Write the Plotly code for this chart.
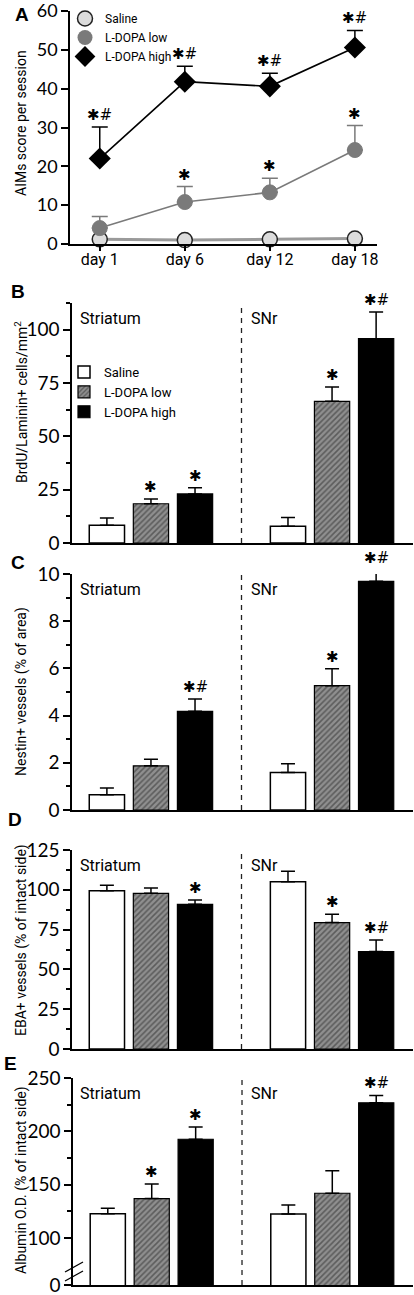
import plotly.graph_objects as go

FIG_W, FIG_H = 414, 1295
NARROW = "Roboto, Liberation Sans Narrow, sans-serif"
NUM = "Lato, Open Sans, sans-serif"
LETTER = "Liberation Sans, Arial, sans-serif"
STAR = "DejaVu Sans, sans-serif"

# ---------------- Panel A data ----------------
days = ["day 1", "day 6", "day 12", "day 18"]
a_saline = [1.2, 1.0, 1.2, 1.4]
a_low = [4.1, 10.8, 13.3, 24.2]
a_low_err = [3.0, 4.0, 3.6, 6.3]
a_high = [22.0, 41.8, 40.6, 50.6]
a_high_err = [8.1, 4.0, 3.4, 4.4]
a_low_sig = ["", "*", "*", "*"]
a_high_sig = ["*#", "*#", "*#", "*#"]
a_yticks = [0, 10, 20, 30, 40, 50, 60]

# ---------------- Bar panels data ----------------
regions = ["Striatum", "SNr"]
treatments = ["Saline", "L-DOPA low", "L-DOPA high"]

# B: BrdU/Laminin+ cells/mm2
b_saline = [8.3, 7.8]
b_saline_err = [3.4, 4.2]
b_low = [18.4, 66.4]
b_low_err = [2.2, 6.7]
b_high = [23.0, 95.8]
b_high_err = [2.9, 12.5]
b_sig_saline = ["", ""]
b_sig_low = ["*", "*"]
b_sig_high = ["*", "*#"]
b_yticks = [0, 25, 50, 75, 100]

# C: Nestin+ vessels (% of area)
c_saline = [0.65, 1.59]
c_saline_err = [0.28, 0.37]
c_low = [1.87, 5.27]
c_low_err = [0.28, 0.71]
c_high = [4.18, 9.69]
c_high_err = [0.52, 0.47]
c_sig_saline = ["", ""]
c_sig_low = ["", "*"]
c_sig_high = ["*#", "*#"]
c_yticks = [0, 2, 4, 6, 8, 10]

# D: EBA+ vessels (% of intact side)
d_saline = [99.4, 105.1]
d_saline_err = [3.4, 6.5]
d_low = [97.8, 79.4]
d_low_err = [3.3, 5.2]
d_high = [90.9, 61.2]
d_high_err = [2.7, 7.3]
d_sig_saline = ["", ""]
d_sig_low = ["", "*"]
d_sig_high = ["*", "*#"]
d_yticks = [0, 25, 50, 75, 100, 125]

# E: Albumin O.D. (% of intact side)  (broken axis: 0 drawn at the floor)
e_saline = [122.8, 122.5]
e_saline_err = [5.2, 8.4]
e_low = [137.0, 142.0]
e_low_err = [13.6, 21.0]
e_high = [192.6, 226.8]
e_high_err = [11.4, 6.9]
e_sig_saline = ["", ""]
e_sig_low = ["*", ""]
e_sig_high = ["*", "*#"]
e_floor = 56
e_yticks = [e_floor, 100, 150, 200, 250]
e_yticktext = ["0", "100", "150", "200", "250"]
e_minor = [125, 175, 225]

BARGAP = 0.27
BARGROUPGAP = 0.2


def sig_html(s):
    out = ""
    for ch in s:
        if ch == "*":
            out += "✱"
        elif ch == "#":
            out += "<i>#</i>"
    return out


def dom_y(top, bottom):
    return [1 - bottom / FIG_H, 1 - top / FIG_H]


def dom_x(left, right):
    return [left / FIG_W, right / FIG_W]


fig = go.Figure()
annotations = []
shapes = []

# ---------------- Panel A traces ----------------
fig.add_trace(go.Scatter(
    x=days, y=a_saline, mode="lines+markers", name="Saline",
    line=dict(color="#9a9a9a", width=3),
    marker=dict(size=15, color="#dcdcdc", line=dict(color="#222", width=1.5)),
    cliponaxis=False, showlegend=False, xaxis="x", yaxis="y"))
fig.add_trace(go.Scatter(
    x=days, y=a_low, mode="lines+markers", name="L-DOPA low",
    line=dict(color="#7a7a7a", width=1.6),
    marker=dict(size=15, color="#7a7a7a", line=dict(color="#7a7a7a", width=1)),
    error_y=dict(type="data", array=a_low_err, arrayminus=[0] * 4, symmetric=False,
                 color="#7a7a7a", thickness=1.5, width=8),
    cliponaxis=False, showlegend=False, xaxis="x", yaxis="y"))
fig.add_trace(go.Scatter(
    x=days, y=a_high, mode="lines+markers", name="L-DOPA high",
    line=dict(color="black", width=1.6),
    marker=dict(size=17, symbol="diamond", color="black"),
    error_y=dict(type="data", array=a_high_err, arrayminus=[0] * 4, symmetric=False,
                 color="black", thickness=1.5, width=8),
    cliponaxis=False, showlegend=False, xaxis="x", yaxis="y"))

# legend-only entries for panel A (marker only)
for nm, mk in [("Saline", dict(size=15, color="#dcdcdc", line=dict(color="#222", width=1.5))),
               ("L-DOPA low", dict(size=15, color="#7a7a7a")),
               ("L-DOPA high", dict(size=16, symbol="diamond", color="black"))]:
    fig.add_trace(go.Scatter(x=[None], y=[None], mode="markers", name=nm, marker=mk,
                             showlegend=True, legend="legend", xaxis="x", yaxis="y"))

A_RANGE = [0, 60]
for i, d in enumerate(days):
    for vals, errs, sig in [(a_low, a_low_err, a_low_sig), (a_high, a_high_err, a_high_sig)]:
        if sig[i]:
            annotations.append(dict(
                x=d, xref="x", y=(vals[i] + errs[i] - A_RANGE[0]) / (A_RANGE[1] - A_RANGE[0]),
                yref="y domain", text=sig_html(sig[i]), showarrow=False,
                yanchor="bottom", yshift=1, font=dict(family=STAR, size=15, color="black")))

# ---------------- Bar panels ----------------
bar_panels = [
    ("2", [0, 112.5], [b_saline, b_low, b_high], [b_saline_err, b_low_err, b_high_err],
     [b_sig_saline, b_sig_low, b_sig_high], True),
    ("3", [0, 10], [c_saline, c_low, c_high], [c_saline_err, c_low_err, c_high_err],
     [c_sig_saline, c_sig_low, c_sig_high], False),
    ("4", [0, 125], [d_saline, d_low, d_high], [d_saline_err, d_low_err, d_high_err],
     [d_sig_saline, d_sig_low, d_sig_high], False),
    ("5", [e_floor, 250], [e_saline, e_low, e_high], [e_saline_err, e_low_err, e_high_err],
     [e_sig_saline, e_sig_low, e_sig_high], False),
]

styles = [
    dict(color="white", line=dict(color="black", width=1.5)),
    dict(color="#8a8a8a", line=dict(color="black", width=1.2),
         pattern=dict(shape="/", fgcolor="#2a2a2a", bgcolor="#8f8f8f", size=4, solidity=0.4)),
    dict(color="black", line=dict(color="black", width=1.2)),
]

spacing = (1 - BARGAP) / 3

for ax, rng, vals, errs, sigs, show_leg in bar_panels:
    for si, tr in enumerate(treatments):
        fig.add_trace(go.Bar(
            x=regions, y=vals[si], name=tr, marker=styles[si],
            error_y=dict(type="data", array=errs[si], arrayminus=[0, 0], symmetric=False,
                         color="black", thickness=1.5, width=7),
            cliponaxis=(ax == "5"), showlegend=show_leg, legend="legend2",
            xaxis="x" + ax, yaxis="y" + ax))
        for gi in range(len(regions)):
            if sigs[si][gi]:
                annotations.append(dict(
                    x=gi + (si - 1) * spacing, xref="x" + ax,
                    y=(vals[si][gi] + errs[si][gi] - rng[0]) / (rng[1] - rng[0]),
                    yref="y" + ax + " domain", text=sig_html(sigs[si][gi]),
                    showarrow=False, yanchor="bottom", yshift=1,
                    font=dict(family=STAR, size=15, color="black")))
    # dashed divider
    shapes.append(dict(type="line", xref="x" + ax, yref="y" + ax + " domain",
                       x0=0.5, x1=0.5, y0=0, y1=1,
                       line=dict(color="#222", width=1.3, dash="5px,5px")))
    # region labels
    annotations.append(dict(x=78 / FIG_W, xref="paper", y=1, yref="y" + ax + " domain",
                            text="Striatum", showarrow=False, xanchor="left", yanchor="top",
                            yshift=-4, font=dict(family=NARROW, size=16, color="black")))
    annotations.append(dict(x=0.5, xref="x" + ax, y=1, yref="y" + ax + " domain",
                            text="SNr", showarrow=False, xanchor="left", yanchor="top",
                            xshift=7, yshift=-4, font=dict(family=NARROW, size=16, color="black")))

# ---------------- Axes ----------------
axis_line = dict(showline=True, linecolor="black", linewidth=1.5, showgrid=False,
                 zeroline=False, automargin=False)


def yax(domain, rng, tickvals, anchor, ticktext=None, minor=None, fsize=19):
    d = dict(domain=domain, range=rng, tickmode="array", tickvals=tickvals,
             ticks="outside", ticklen=7, tickwidth=1.5, tickcolor="black",
             tickfont=dict(family=NUM, size=fsize, color="black"), anchor=anchor,
             ticklabeloverflow="allow", **axis_line)
    if ticktext is not None:
        d["ticktext"] = ticktext
    if minor is not None:
        d["minor"] = dict(ticks="outside", ticklen=4, tickwidth=1.5, tickcolor="black",
                          showgrid=False, **minor)
    return d


def xbar(domain, anchor):
    return dict(domain=domain, type="category", categoryorder="array", categoryarray=regions,
                range=[-0.436, 1.447], ticks="", showticklabels=False, anchor=anchor, **axis_line)


layout = dict(
    width=FIG_W, height=FIG_H, autosize=False,
    margin=dict(l=0, r=0, t=0, b=0, pad=0, autoexpand=False),
    paper_bgcolor="white", plot_bgcolor="rgba(0,0,0,0)",
    barmode="group", bargap=BARGAP, bargroupgap=BARGROUPGAP,
    xaxis=dict(domain=dom_x(70, 377), type="category", range=[-0.35, 3.26],
               ticks="outside", ticklen=5, tickwidth=1.5, tickcolor="black",
               ticklabeloverflow="allow", ticklabelstandoff=-5,
               tickfont=dict(family=NARROW, size=16, color="black"), anchor="y", **axis_line),
    yaxis=yax(dom_y(11, 244), A_RANGE, a_yticks, "x", fsize=18),
    xaxis2=xbar(dom_x(72, 413), "y2"),
    yaxis2=yax(dom_y(303, 543), bar_panels[0][1], b_yticks, "x2", minor=dict(dtick=12.5, tick0=0)),
    xaxis3=xbar(dom_x(72, 413), "y3"),
    yaxis3=yax(dom_y(574, 810), bar_panels[1][1], c_yticks, "x3", minor=dict(dtick=1, tick0=0)),
    xaxis4=xbar(dom_x(72, 413), "y4"),
    yaxis4=yax(dom_y(850, 1049), bar_panels[2][1], d_yticks, "x4", minor=dict(dtick=12.5, tick0=0)),
    xaxis5=xbar(dom_x(73, 413), "y5"),
    yaxis5=yax(dom_y(1078, 1285), bar_panels[3][1], e_yticks, "x5", ticktext=e_yticktext,
               minor=dict(tickmode="array", tickvals=e_minor)),
    legend=dict(x=65 / FIG_W, y=1 - 4 / FIG_H, xanchor="left", yanchor="top",
                bgcolor="rgba(0,0,0,0)", font=dict(family=NARROW, size=12, color="black"),
                itemwidth=30, tracegroupgap=0, traceorder="normal"),
    legend2=dict(x=64 / FIG_W, y=1 - 357 / FIG_H, xanchor="left", yanchor="top",
                 bgcolor="rgba(0,0,0,0)", font=dict(family=NARROW, size=13, color="black"),
                 itemwidth=30, tracegroupgap=0, traceorder="normal"),
)

# y-axis titles (rotated)
titles = [
    ("AIMs score per session", 123),
    ("BrdU/Laminin+ cells/mm<sup>2</sup>", 402),
    ("Nestin+ vessels (% of area)", 692),
    ("EBA+ vessels (% of intact side)", 940),
    ("Albumin O.D. (% of intact side)", 1180),
]
for t, yc in titles:
    annotations.append(dict(x=21 / FIG_W, y=1 - yc / FIG_H, xref="paper", yref="paper",
                            text=t, textangle=-90, showarrow=False,
                            xanchor="center", yanchor="middle",
                            font=dict(family=NARROW, size=14, color="black")))

# panel letters
for lt, xp, yp in [("A", 22, 15), ("B", 18, 292), ("C", 18, 562), ("D", 15, 820), ("E", 10, 1063)]:
    annotations.append(dict(x=xp / FIG_W, y=1 - yp / FIG_H, xref="paper", yref="paper",
                            text="<b>" + lt + "</b>", showarrow=False,
                            xanchor="center", yanchor="middle",
                            font=dict(family=LETTER, size=19, color="black")))

# axis-break marks on panel E
for off in (0, 9):
    shapes.append(dict(type="line", xref="paper", yref="paper",
                       x0=65 / FIG_W, x1=83 / FIG_W,
                       y0=1 - (1272 + off) / FIG_H, y1=1 - (1262 + off) / FIG_H,
                       line=dict(color="black", width=1.3)))

layout["annotations"] = annotations
layout["shapes"] = shapes
fig.update_layout(**layout)

fig.write_html(
    "out.html",
    config={"displayModeBar": False},
    post_script="document.body.style.margin='0';document.body.style.overflow='hidden';",
)
